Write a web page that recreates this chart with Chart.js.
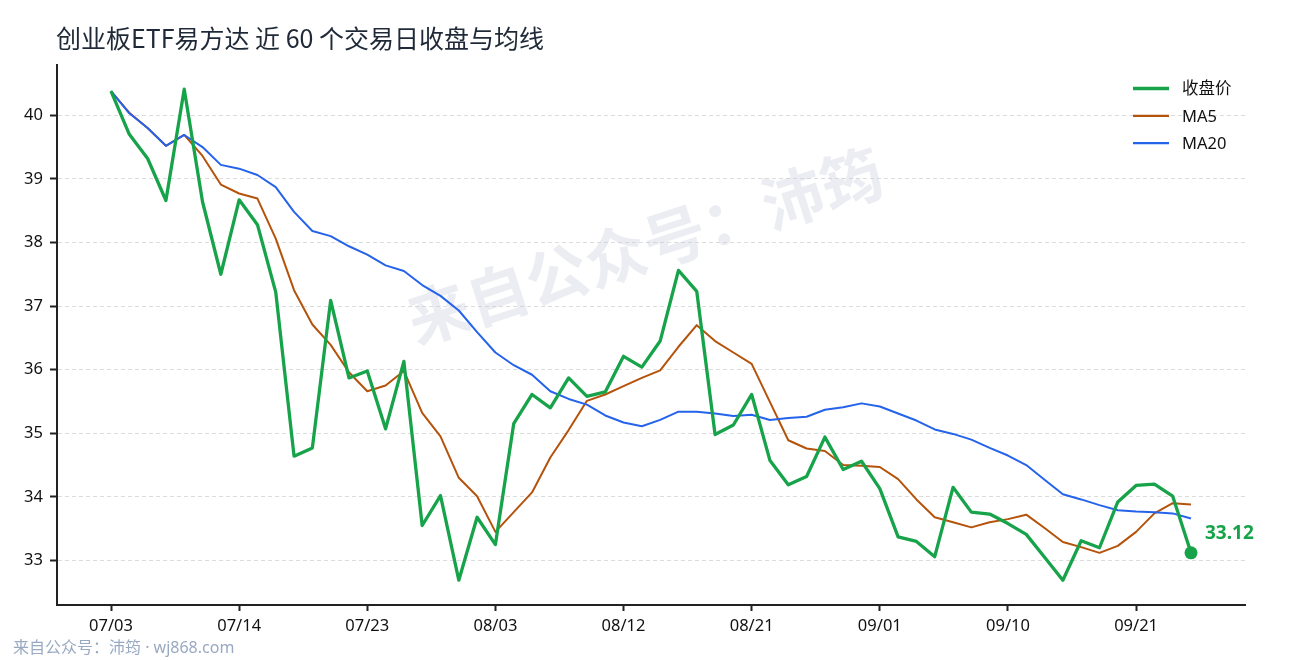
<!DOCTYPE html>
<html>
<head>
<meta charset="utf-8">
<script src="https://cdn.jsdelivr.net/npm/chart.js@4.4.1/dist/chart.umd.min.js"></script>
<style>
html,body{margin:0;padding:0;background:#fff}
#wrap{width:1290px;height:660px}
</style>
</head>
<body>
<div id="wrap"><canvas id="priceChart" width="1290" height="660"></canvas></div>
<script>
var chartTitle = '创业板ETF易方达 近 60 个交易日收盘与均线';
var footerText = '来自公众号：沛筠 · wj868.com';
var watermark = '来自公众号：沛筠';

// x ticks: position in trading-day index and the date shown there
var tickPos = [0, 7, 14, 21, 28, 35, 42, 49, 56];
var tickLabels = ['07/03', '07/14', '07/23', '08/03', '08/12', '08/21', '09/01', '09/10', '09/21'];
var yTicks = [33, 34, 35, 36, 37, 38, 39, 40];

var close = [40.38,39.70,39.32,38.66,40.41,38.64,37.50,38.67,38.28,37.22,
	34.64,34.77,37.09,35.87,35.98,35.07,36.13,33.55,34.02,32.69,
	33.68,33.25,35.15,35.61,35.40,35.87,35.58,35.65,36.21,36.04,
	36.45,37.56,37.23,34.98,35.13,35.61,34.57,34.19,34.32,34.94,
	34.43,34.56,34.13,33.37,33.30,33.06,34.15,33.76,33.73,33.58,
	33.41,33.05,32.69,33.31,33.20,33.92,34.18,34.20,34.01,33.12];

var ma5 = [40.38,40.04,39.80,39.52,39.69,39.36,38.91,38.77,38.69,38.06,
	37.25,36.71,36.39,35.96,35.66,35.75,35.98,35.32,34.95,34.30,
	34.01,33.45,33.76,34.07,34.62,35.05,35.51,35.61,35.74,35.87,
	35.99,36.36,36.70,36.45,36.27,36.09,35.49,34.89,34.76,34.72,
	34.50,34.49,34.47,34.28,33.96,33.68,33.60,33.52,33.60,33.65,
	33.72,33.51,33.29,33.21,33.12,33.23,33.45,33.74,33.90,33.88];

var ma20 = [40.38,40.03,39.80,39.52,39.69,39.50,39.22,39.16,39.06,38.87,
	38.48,38.18,38.10,37.94,37.81,37.64,37.55,37.33,37.16,36.93,
	36.59,36.27,36.07,35.92,35.66,35.54,35.45,35.28,35.17,35.11,
	35.21,35.34,35.34,35.31,35.27,35.29,35.21,35.24,35.26,35.37,
	35.41,35.47,35.42,35.31,35.20,35.06,34.99,34.90,34.77,34.65,
	34.50,34.27,34.04,33.96,33.87,33.79,33.77,33.76,33.74,33.66];

var GREEN = '#16a34a', ORANGE = '#b4530b', BLUE = '#2563eb';
var FONT = "'Noto Sans','Noto Sans CJK SC',sans-serif";
var CJK = "'Noto Sans CJK SC','Noto Sans',sans-serif";

function toPoints(arr) {
	var out = [];
	for (var i = 0; i < arr.length; i++) out.push({x: i, y: arr[i]});
	return out;
}

var lastIdx = close.length - 1;

// title, legend, footer, watermark and the last-close label
var decoPlugin = {
	id: 'deco',
	beforeDatasetsDraw: function (chart) {
		var ctx = chart.ctx;
		ctx.save();
		ctx.translate(645, 246);
		ctx.rotate(-18 * Math.PI / 180);
		ctx.font = 'bold 62px ' + CJK;
		ctx.fillStyle = 'rgba(196,202,218,0.34)';
		ctx.textAlign = 'center';
		ctx.textBaseline = 'middle';
		ctx.fillText(watermark, 0, 0);
		ctx.restore();
	},
	afterDraw: function (chart) {
		var ctx = chart.ctx;
		ctx.save();

		ctx.font = '25px ' + CJK;
		ctx.fillStyle = '#1f2937';
		ctx.textAlign = 'left';
		ctx.textBaseline = 'middle';
		ctx.fillText(chartTitle, 56, 38);

		// legend
		var items = [
			{label: '收盘价', color: GREEN, w: 3.5},
			{label: 'MA5', color: ORANGE, w: 2.2},
			{label: 'MA20', color: BLUE, w: 2.2}
		];
		for (var i = 0; i < items.length; i++) {
			var y = 88.5 + i * 27.3;
			ctx.strokeStyle = items[i].color;
			ctx.lineWidth = items[i].w;
			ctx.beginPath();
			ctx.moveTo(1133, y);
			ctx.lineTo(1169, y);
			ctx.stroke();
			ctx.fillStyle = '#111';
			ctx.font = '16.5px ' + FONT;
			ctx.fillText(items[i].label, 1182, y + 1);
		}

		ctx.font = '16px ' + FONT;
		ctx.fillStyle = '#9aa9c2';
		ctx.fillText(footerText, 13, 648);

		var pt = chart.getDatasetMeta(0).data[lastIdx];
		ctx.font = 'bold 19px ' + FONT;
		ctx.fillStyle = GREEN;
		ctx.fillText(close[lastIdx].toFixed(2), pt.x + 14, pt.y - 19);
		ctx.restore();
	}
};

Chart.defaults.font.family = FONT;
Chart.defaults.font.size = 16.5;
Chart.defaults.color = '#111';

var ctx = document.getElementById('priceChart');
var chart = new Chart(ctx, {
	type: 'line',
	data: {
		datasets: [{
			label: '收盘价',
			data: toPoints(close),
			borderColor: GREEN,
			backgroundColor: GREEN,
			borderWidth: 3.3,
			borderJoinStyle: 'round',
			pointRadius: function (c) { return c.dataIndex === lastIdx ? 6.5 : 0; },
			pointBorderWidth: 0,
			pointBackgroundColor: GREEN,
			tension: 0
		}, {
			label: 'MA20',
			data: toPoints(ma20),
			borderColor: BLUE,
			borderWidth: 2,
			borderJoinStyle: 'round',
			pointRadius: 0,
			tension: 0
		}, {
			label: 'MA5',
			data: toPoints(ma5),
			borderColor: ORANGE,
			borderWidth: 2,
			borderJoinStyle: 'round',
			pointRadius: 0,
			tension: 0
		}]
	},
	options: {
		responsive: false,
		animation: false,
		events: [],
		layout: {
			padding: {left: 0, right: 45, top: 65, bottom: 0}
		},
		plugins: {
			legend: {display: false},
			tooltip: {enabled: false},
			title: {display: false}
		},
		scales: {
			x: {
				type: 'linear',
				min: -2.95,
				max: 61.95,
				afterFit: function (s) { s.height = 55; },
				afterBuildTicks: function (s) {
					s.ticks = tickPos.map(function (v) { return {value: v}; });
				},
				ticks: {
					autoSkip: false,
					maxRotation: 0,
					padding: 5,
					callback: function (v) { return tickLabels[tickPos.indexOf(v)]; }
				},
				grid: {
					drawOnChartArea: false,
					drawTicks: true,
					tickLength: 6,
					tickColor: '#222',
					tickWidth: 2
				},
				border: {display: true, color: '#222', width: 2}
			},
			y: {
				min: 32.30,
				max: 40.79,
				afterFit: function (s) { s.width = 57; },
				afterBuildTicks: function (s) {
					s.ticks = yTicks.map(function (v) { return {value: v}; });
				},
				ticks: {padding: 7},
				grid: {
					color: '#dcdcdc',
					lineWidth: 1,
					tickLength: 7,
					tickColor: '#222',
					tickWidth: 2,
					tickBorderDash: []
				},
				border: {display: true, color: '#222', width: 2, dash: [4, 3]}
			}
		}
	},
	plugins: [decoPlugin]
});
</script>
</body>
</html>
